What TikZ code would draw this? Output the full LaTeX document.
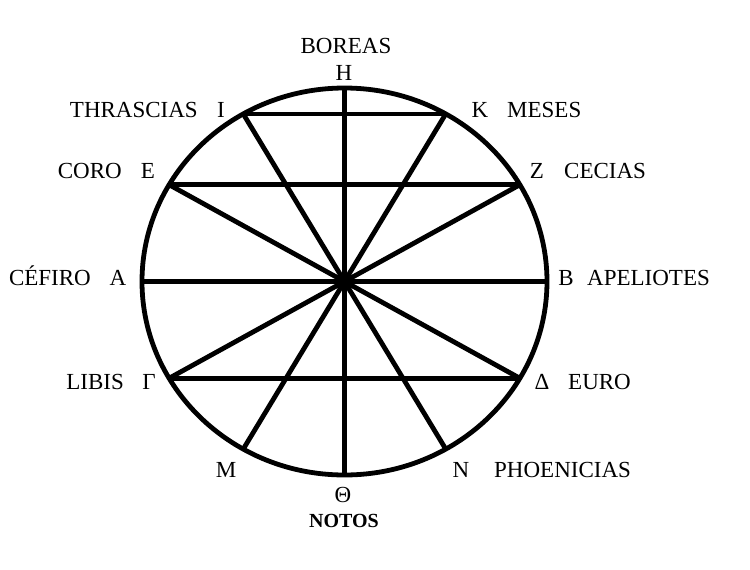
\documentclass[tikz,border=0pt]{standalone}
\usepackage{fontspec}
\setmainfont{Liberation Serif}
\begin{document}
\begin{tikzpicture}[x=1pt,y=-1pt,
  rim/.style={line width=4.8pt},
  spoke/.style={line width=4.8pt},
  lbl/.style={inner sep=0pt,anchor=base,font=\fontsize{23}{27}\selectfont},
  lblw/.style={lbl,anchor=base west},
  lble/.style={lbl,anchor=base east},
  notos/.style={inner sep=0pt,anchor=base,font=\fontsize{20}{24}\selectfont\bfseries}]
\useasboundingbox (0,0) rectangle (750,570);
\coordinate (O) at (344.5,281.5);
\foreach \n/\a in {H/90,K/60,Z/30,B/0,D/-30,N/-60,T/-90,M/-120,G/-150,A/180,E/150,I/120}
  \coordinate (\n) at ({344.5+202.5*cos(\a)},{281.5-193.5*sin(\a)});
% spokes and chords
\draw[spoke] (H) -- (T);
\draw[spoke] (A) -- (B);
\draw[spoke] (I) -- (K);
\draw[spoke] (E) -- (Z);
\draw[spoke] (G) -- (D);
\draw[spoke] (I) -- (N);
\draw[spoke] (K) -- (M);
\draw[spoke] (E) -- (D);
\draw[spoke] (Z) -- (G);
\draw[rim] (O) ellipse [x radius=202.5, y radius=193.5];
% labels
\node[lbl] (boreas) at (346,53) {BOREAS};
\node[lbl] (lH) at (344,80) {H};
\node[lble] (thrascias) at (198,117) {THRASCIAS};
\node[lbl] (lI) at (221,117) {I};
\node[lbl] (lK) at (480,117) {K};
\node[lblw] (meses) at (507,117) {MESES};
\node[lble] (coro) at (122,178) {CORO};
\node[lbl] (lE) at (148,178) {E};
\node[lbl] (lZ) at (537,178) {Z};
\node[lblw] (cecias) at (564,178) {CECIAS};
\node[lble] (cefiro) at (91,285) {CÉFIRO};
\node[lbl] (lA) at (118,285) {A};
\node[lbl] (lB) at (566,285) {B};
\node[lblw] (apeliotes) at (587,285) {APELIOTES};
\node[lble] (libis) at (124,389) {LIBIS};
\node[lbl] (lG) at (149,389) {Γ};
\node[lbl] (lD) at (542,389) {Δ};
\node[lblw] (euro) at (568,389) {EURO};
\node[lbl] (lM) at (226,477) {M};
\node[lbl] (lN) at (461,477) {N};
\node[lblw] (phoenicias) at (494,477) {PHOENICIAS};
\node[lbl] (lT) at (343,502) {Θ};
\node[notos] (notos) at (344,527) {NOTOS};
\end{tikzpicture}
\end{document}
